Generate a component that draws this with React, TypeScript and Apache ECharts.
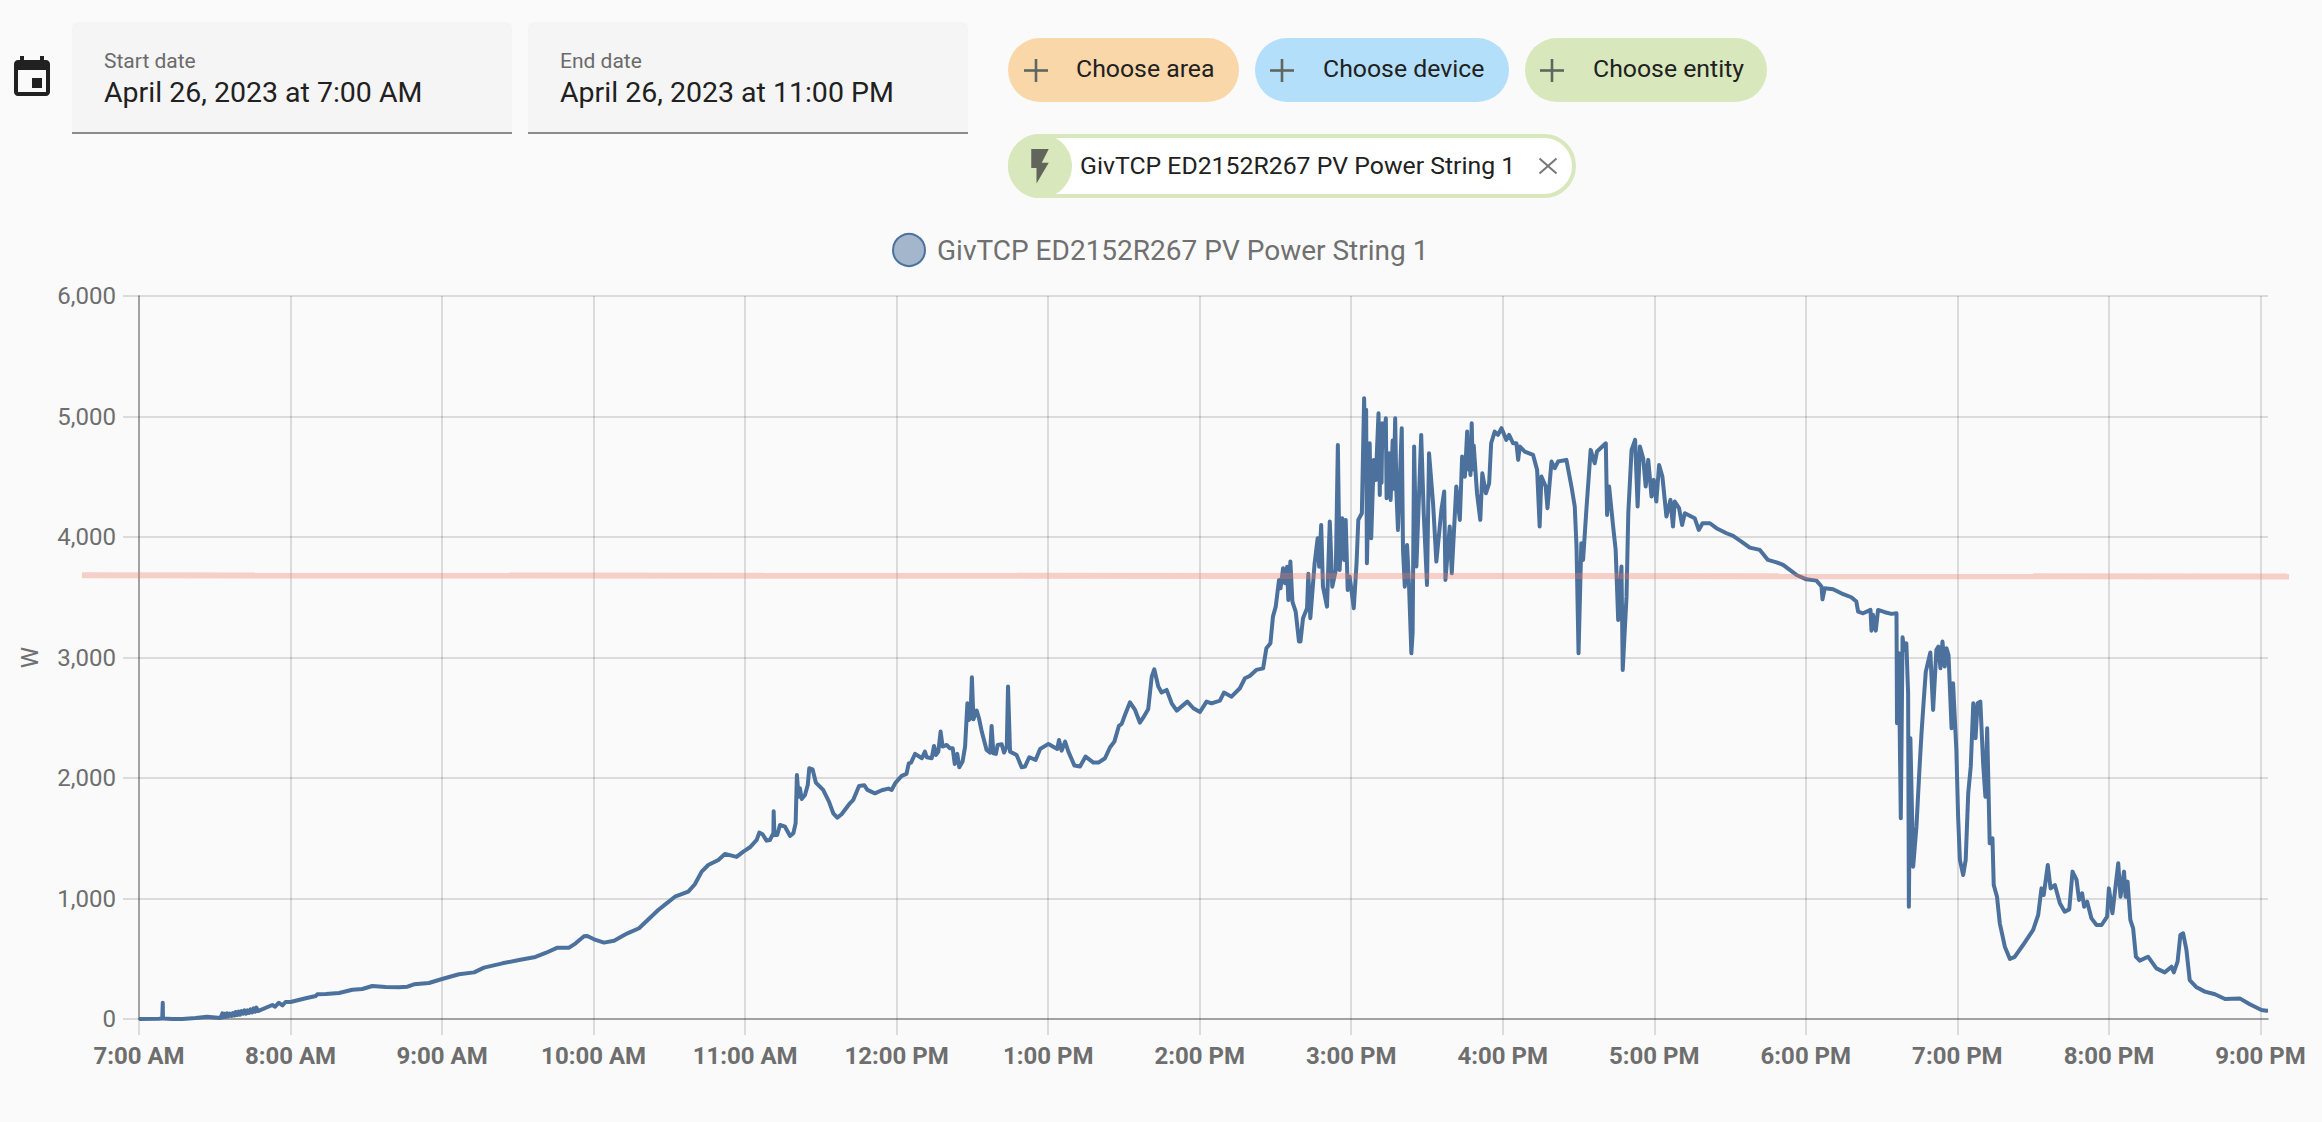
import React, { useEffect, useRef } from "react";
import * as echarts from "echarts";

const FONT = "Roboto";
const seriesName = "GivTCP ED2152R267 PV Power String 1";
const hourLabels = ["7:00 AM", "8:00 AM", "9:00 AM", "10:00 AM", "11:00 AM", "12:00 PM", "1:00 PM", "2:00 PM", "3:00 PM", "4:00 PM", "5:00 PM", "6:00 PM", "7:00 PM", "8:00 PM", "9:00 PM"];
const hourTicks = [0, 60, 120, 180, 240, 300, 360, 420, 480, 540, 600, 660, 720, 780, 840];
const maxMinute = 843;

// [minutes after 7:00 AM, watts]
const morning = [[0,0],[7.9,3],[9.2,5],[9.4,135],[9.5,5],[13.2,0],[17.2,0],[22.4,8],[27,19],[32.3,8],[33,47],[33.4,14],[33.9,44],[34.3,17],[34.9,47],[35.4,22],[36,44],[36.6,25],[37.2,50],[37.8,28],[38.3,58],[38.9,33],[39.5,61],[40,36],[40.6,66],[41.2,44],[41.8,72],[42.4,44],[43,72],[43.6,50],[44.2,80],[44.8,55],[45.4,88],[46,61],[46.5,94],[47.1,66],[52.8,116],[53.9,102],[55.4,135],[56.8,113],[58,141],[60,141],[66,172],[70,191],[70.6,205],[74,208],[79.2,216],[84.5,243],[88.4,249],[92.4,274],[97.7,266],[103,263],[106.3,268],[108.9,288],[114.8,299],[120,332],[126.7,371],[132.7,387],[136.6,426],[143.9,462],[150.5,490],[157,515],[161,548],[165.7,592],[170.3,592],[172.9,628],[176.2,686],[177.5,689],[180.8,656],[184.1,634],[188.1,650],[193.4,711],[198,753]];
const lateMorning = [[205.6,905],[208.9,960],[212.2,1015],[217.5,1057],[220.1,1118],[222.8,1223],[225.4,1278],[229.4,1320],[232,1370],[236.6,1345],[239.3,1389],[241.9,1425],[244.6,1486],[245.6,1547],[246.9,1533],[248.5,1480],[249.8,1486],[251.2,1541],[251.3,1724],[251.6,1527],[252.7,1527],[253.8,1610],[255.8,1596],[257.8,1519],[259.1,1541],[260,1624],[260.5,2025],[261.2,1845],[261.7,1915],[262.4,1826],[263.7,1859],[264.8,1942],[265.4,2081],[266.7,2072],[268,1962],[270.9,1901],[273.2,1804],[274.9,1707],[276.5,1671],[278.2,1699],[281.5,1790],[282.8,1818],[285.1,1934],[287.2,1940],[288.4,1901],[291.4,1873],[294.1,1898],[296.7,1912],[298,1901],[299.6,1962],[302,2017],[303.9,2034],[304.8,2122],[305.7,2128],[307.3,2200],[310,2164],[311.2,2219],[311.9,2172],[313.9,2164],[314.8,2266],[315.6,2191],[316.5,2219],[317.4,2385],[318.2,2261],[319.8,2274],[321.1,2247],[322.2,2247],[323,2117],[324,2200],[324.8,2089],[326.1,2136],[327.1,2261],[328,2620],[328.6,2482],[329.2,2496],[329.8,2836],[330.4,2487],[331.7,2559],[332.6,2496],[333.7,2385],[335.6,2233],[337,2211],[337.6,2432],[338.3,2205],[339.3,2200],[340,2274],[341.6,2280],[342.5,2211],[343.6,2261],[344.1,2759],[344.9,2219],[347.5,2191],[349.5,2089],[350.8,2095],[352.5,2172],[355,2150],[356.8,2241],[360.1,2283],[363.6,2241],[364.3,2316],[365.3,2227],[366.7,2302],[368,2219],[370.4,2103],[372.6,2095],[374.8,2178],[377.9,2128],[379.9,2128],[382.5,2164],[384.5,2255],[386.2,2302],[388,2432],[389.1,2449],[390.4,2523]];
const earlyAfternoon = [[392.4,2628],[394.4,2565],[396.3,2460],[397.9,2510],[399.6,2570],[401,2841],[402,2902],[403.6,2759],[404.9,2709],[406.9,2731],[408.9,2620],[410.9,2559],[415.1,2634],[417.5,2579],[420.1,2548],[422.7,2634],[424.7,2620],[428,2642],[429.6,2709],[432.6,2675],[435.9,2745],[437.9,2828]];
const peak = [[439.8,2847],[442.4,2897],[445.1,2910],[446.4,3077],[448,3118],[449,3339],[450.1,3422],[451.4,3644],[452,3575],[453,3741],[453.8,3616],[454.6,3754],[455.1,3478],[455.9,3796],[456.7,3464],[458,3381],[459.3,3132],[459.9,3132],[460.9,3326],[462.5,3409],[463,3694],[463.8,3326],[465.5,3782],[466.7,3990],[467.3,3754],[468.1,4100],[468.8,3588],[470.4,3422],[471.5,4128],[472.5,3588],[473.9,3727],[474.7,4764],[475.4,3727],[476.4,4156],[477.2,3810],[477.8,4142],[478.6,3561],[479.4,3671],[481,3409],[482.1,3782],[482.8,4142],[484.2,4197],[485.1,5152],[485.5,4700],[485.9,5055],[486.2,3782],[487.3,4778],[487.9,3990],[488.9,4640],[489.7,4472],[490.8,5027],[491.3,4349],[491.6,4850],[492,4450],[492.3,4944],[492.8,4750],[493.7,4986],[494,4322],[495,4695],[495.6,4308],[496.4,4800],[496.8,4400],[497.4,4986],[497.9,4363],[498.5,4059],[500,4903],[500.5,3893],[501.2,3588],[502.1,3934],[502.9,3588],[503.8,3035],[504.3,3200],[504.9,4751],[505.8,3755],[507.7,4847],[508.7,4197],[510,3602],[510.8,4695],[512.4,4280],[513.7,3796],[515.7,4225],[516.8,4377],[517.3,3644],[519,4087],[519.8,3699],[521.6,4419],[523,4142],[523.9,4668],[525,4500],[525.9,4875],[526.3,4560],[526.7,4760],[527.2,4515],[527.7,4944],[528.1,4560],[528.5,4760],[529.8,4363],[531.1,4142],[531.9,4529],[533.3,4363],[534.6,4446],[535.4,4778],[536.8,4875],[538.1,4848],[539.5,4903],[541.4,4806],[542.5,4847],[544.1,4778],[545.4,4778],[546.1,4640],[546.7,4751],[548.7,4709],[552,4681],[553.6,4557],[554.6,4087],[555.3,4502],[557,4419],[557.7,4239],[559.3,4626],[560.6,4571],[561.9,4626],[565.2,4640],[567.2,4419],[568.5,4253],[569.2,3920],[570,3035],[571.1,3948],[571.8,3810],[573.1,4225],[574.8,4723],[576.4,4612],[577.3,4709],[580.8,4778],[581.3,4183],[582.1,4419],[583.7,4087],[584.7,3893],[585.7,3312],[587,3755],[587.5,2897],[589,3505],[589.7,4197],[591,4723],[592.4,4806],[593.4,4253],[594.3,4751],[595.6,4654],[596.6,4419],[597.6,4640],[598.9,4336],[599.8,4474],[600.8,4294],[601.9,4598],[603.2,4502],[604.8,4170],[606.4,4308],[607.4,4087],[608.1,4294],[609.8,4239],[611,4100],[612.1,4197],[616,4156],[617.6,4059],[619.1,4114],[622,4114],[624.6,4073],[628.6,4031],[631.2,4009],[634.5,3962],[637.8,3912]];
const evening = [[641.8,3893],[645,3810],[648.4,3790],[651,3768],[656.3,3685],[660.2,3649],[664.2,3638],[666.2,3589],[666.6,3483],[667.5,3575],[670.8,3566],[674.8,3525],[678,3500],[680,3464],[680.7,3381],[682.7,3367],[685.6,3395],[686,3223],[686.6,3354],[687.7,3223],[688.6,3395],[691.3,3376],[693.9,3362],[695.9,3367],[696.1,2454],[696.8,3035],[697.6,1666],[698.3,3168],[698.9,3063],[699.8,3118],[700.5,2703],[700.8,932],[701.4,2330],[702.5,1264],[703.8,1596],[704.9,2039],[705.8,2371],[706.7,2648],[707.5,2883],[709.3,3041],[710.4,2565],[711.7,3063],[712.5,3090],[713.3,2911],[714.1,3132],[715,2925],[715.7,3077],[716.5,3021],[717.7,2413],[718.3,2786],[719.6,2233],[720.3,1679],[721,1320],[722.3,1195],[723.3,1320],[724.3,1873],[725.3,2094],[726.3,2620],[727.2,2330],[728,2620],[729.1,2634],[730.2,2122],[731.1,1845],[731.8,2413],[732.8,1458],[733.9,1500],[734.4,1112],[735.7,1015]];
const dusk = [[736.8,794],[738.8,600],[740.8,498],[742.7,516],[746,614],[750,739],[752,863],[753.3,1084],[754.2,1029],[755.8,1278],[756.9,1084],[758.6,1112],[760.6,960],[762.5,891],[764.3,910],[765.6,1223],[767.2,1154],[768.2,988],[769.4,1043],[770.2,932],[771.4,974],[773.1,835],[775.1,780],[777.1,780],[779.3,849],[780,1084],[781.4,877],[783.7,1292],[784.6,1015],[786,1223],[786.6,1015],[787.4,1140],[788.5,822],[789.6,752],[790.7,517],[792.2,484],[795.5,517],[798.8,420],[802.1,387],[804.8,434],[805.7,387],[807.2,476],[808.3,697],[809.4,711],[810.7,573],[812,323],[814.7,263],[818,227],[822,205],[826,166],[831.8,171],[835.8,122],[840.4,75],[842.4,69],[843,70]];

const pickers = [
  { label: "Start date", value: "April 26, 2023 at 7:00 AM", x: 72 },
  { label: "End date", value: "April 26, 2023 at 11:00 PM", x: 528 },
];
const chips = [
  { text: "Choose area", x: 1008, w: 231, color: "#fad7a9", plusX: 1036, textX: 1076 },
  { text: "Choose device", x: 1255, w: 254, color: "#b3dffa", plusX: 1282, textX: 1323 },
  { text: "Choose entity", x: 1525, w: 242, color: "#d9e7bd", plusX: 1552, textX: 1593 },
];

echarts.graphic.registerShape(
  "calendarIcon",
  echarts.graphic.extendPath("M17 12h-5v5h5v-5zM16 1v2H8V1H6v2H5c-1.11 0-1.99.9-1.99 2L3 19c0 1.1.89 2 2 2h14c1.1 0 2-.9 2-2V5c0-1.1-.9-2-2-2h-1V1h-2zm3 18H5V8h14v11z", {}) as any
);
echarts.graphic.registerShape(
  "boltIcon",
  echarts.graphic.extendPath("M7 2v11h3v9l7-12h-4l4-8z", {}) as any
);

function txt(text: string, x: number, y: number, fontSize: number, fill: string) {
  return { type: "text", x, y, z: 20, style: { text, fontFamily: FONT, fontSize, fill, verticalAlign: "middle", align: "left" } };
}

function controls(): any[] {
  const out: any[] = [];
  out.push({ type: "calendarIcon", x: 8, y: 54, scaleX: 2, scaleY: 2, z: 20, style: { fill: "#212121" } });
  pickers.forEach((p) => {
    out.push({ type: "rect", z: 10, shape: { x: p.x, y: 22, width: 440, height: 112, r: [6, 6, 0, 0] }, style: { fill: "#f5f5f5" } });
    out.push({ type: "rect", z: 11, shape: { x: p.x, y: 132, width: 440, height: 2 }, style: { fill: "#8c8c8c" } });
    out.push(txt(p.label, p.x + 32, 60.5, 21, "#6b6b6b"));
    out.push(txt(p.value, p.x + 32, 92.5, 28.5, "#212121"));
  });
  chips.forEach((c) => {
    out.push({ type: "rect", z: 10, shape: { x: c.x, y: 38, width: c.w, height: 64, r: 32 }, style: { fill: c.color } });
    out.push({ type: "rect", z: 11, shape: { x: c.plusX - 12, y: 69.2, width: 24, height: 2.6 }, style: { fill: "#5f6660" } });
    out.push({ type: "rect", z: 11, shape: { x: c.plusX - 1.3, y: 59, width: 2.6, height: 23 }, style: { fill: "#5f6660" } });
    out.push(txt(c.text, c.textX, 68.5, 24.8, "#212121"));
  });
  out.push({ type: "rect", z: 10, shape: { x: 1010, y: 136, width: 564, height: 60, r: 30 }, style: { fill: "#ffffff", stroke: "#d9e7bd", lineWidth: 4 } });
  out.push({ type: "circle", z: 11, shape: { cx: 1040, cy: 166, r: 32 }, style: { fill: "#d9e7bd" } });
  out.push({ type: "boltIcon", x: 1019, y: 145.6, scaleX: 1.75, scaleY: 1.72, z: 12, style: { fill: "#62665a" } });
  out.push(txt(seriesName, 1080, 165, 24.8, "#212121"));
  out.push({ type: "line", z: 12, shape: { x1: 1539.5, y1: 158.5, x2: 1556.5, y2: 173.5 }, style: { stroke: "#777777", lineWidth: 2 } });
  out.push({ type: "line", z: 12, shape: { x1: 1556.5, y1: 158.5, x2: 1539.5, y2: 173.5 }, style: { stroke: "#777777", lineWidth: 2 } });
  return out;
}

export default function App() {
  const ref = useRef<HTMLDivElement>(null);
  useEffect(() => {
    document.body.style.margin = "0";
    document.body.style.background = "#fafafa";
    const chart = echarts.init(ref.current!, undefined, { renderer: "svg" });
    const gridColor = "rgba(0,0,0,0.12)";
    const axisColor = "rgba(0,0,0,0.26)";
    chart.setOption({
      animation: false,
      backgroundColor: "#fafafa",
      textStyle: { fontFamily: FONT },
      legend: {
        left: 892,
        top: 233,
        padding: 0,
        itemWidth: 32,
        itemHeight: 32,
        icon: "circle",
        selectedMode: false,
        itemStyle: { color: "rgba(75,113,156,0.5)", borderColor: "#4b719c", borderWidth: 2 },
        textStyle: { fontFamily: FONT, fontSize: 28, color: "#707070", padding: [0, 0, 0, 7] },
        data: [seriesName],
      },
      grid: { left: 139, top: 296, right: 54, bottom: 103, containLabel: false },
      xAxis: {
        type: "value",
        min: 0,
        max: maxMinute,
        interval: 60,
        axisLine: { show: true, lineStyle: { color: axisColor, width: 2 } },
        axisTick: { show: true, length: 16, customValues: hourTicks, lineStyle: { color: gridColor, width: 2 } },
        splitLine: { show: true, lineStyle: { color: gridColor, width: 2 } },
        axisLabel: {
          customValues: hourTicks,
          margin: 25,
          fontFamily: FONT,
          fontSize: 24,
          fontWeight: "bold",
          color: "#6e6e6e",
          formatter: (v: number) => hourLabels[hourTicks.indexOf(v)] ?? "",
          hideOverlap: false,
        },
      },
      yAxis: {
        type: "value",
        min: 0,
        max: 6000,
        interval: 1000,
        name: "W",
        nameLocation: "middle",
        nameGap: 97,
        nameRotate: 90,
        nameTextStyle: { fontFamily: FONT, fontSize: 24, color: "#707070" },
        axisLine: { show: true, lineStyle: { color: axisColor, width: 2 } },
        axisTick: { show: true, length: 16, lineStyle: { color: gridColor, width: 2 } },
        splitLine: { show: true, lineStyle: { color: gridColor, width: 2 } },
        axisLabel: {
          margin: 23,
          fontFamily: FONT,
          fontSize: 24,
          color: "#6e6e6e",
          formatter: (v: number) => v.toLocaleString("en-US"),
        },
      },
      series: [
        {
          name: seriesName,
          type: "line",
          showSymbol: false,
          symbol: "none",
          lineStyle: { color: "#4b719c", width: 4, join: "round" },
          itemStyle: { color: "#4b719c" },
          data: [...morning, ...lateMorning, ...earlyAfternoon, ...peak, ...evening, ...dusk],
        },
      ],
      graphic: [
        ...controls(),
        { type: "line", z: 100, shape: { x1: 82, y1: 575.3, x2: 2289, y2: 576.5 }, style: { stroke: "rgba(238,120,100,0.33)", lineWidth: 6 } },
      ],
    });
    return () => chart.dispose();
  }, []);
  return <div ref={ref} style={{ width: 2322, height: 1122, background: "#fafafa", overflow: "hidden" }} />;
}
